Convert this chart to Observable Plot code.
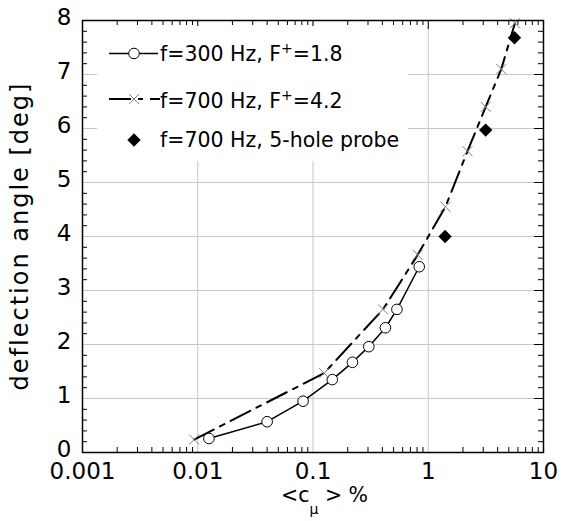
<!DOCTYPE html>
<html><head><meta charset="utf-8">
<script src="https://cdn.jsdelivr.net/npm/d3@7"></script>
<script src="https://cdn.jsdelivr.net/npm/@observablehq/plot@0.6"></script>
<style>html,body{margin:0;padding:0;background:#fff;} #chart{width:564px;height:521px;}</style>
</head><body><div id="chart"></div>
<script>
// ---- data ----
const series1X = [0.0125, 0.040, 0.082, 0.147, 0.22, 0.305, 0.425, 0.535, 0.835];
const series1Y = [0.26, 0.57, 0.95, 1.35, 1.67, 1.96, 2.31, 2.65, 3.44];
const series2X = [0.0093, 0.125, 0.405, 0.81, 1.41, 2.19, 3.15, 4.3, 5.65];
const series2Y = [0.24, 1.47, 2.65, 3.66, 4.55, 5.58, 6.40, 7.10, 7.95];
const probeX = [1.40, 3.15, 5.6];
const probeY = [4.0, 5.97, 7.68];
const xTicks = [0.001, 0.01, 0.1, 1, 10];
const xTickLabels = ["0.001", "0.01", "0.1", "1", "10"];
const yTicks = [0, 1, 2, 3, 4, 5, 6, 7, 8];
const yTickLabels = ["0", "1", "2", "3", "4", "5", "6", "7", "8"];
const legendLabels = [
  ["f=300 Hz, F", "+", "=1.8"],
  ["f=700 Hz, F", "+", "=4.2"],
  ["f=700 Hz, 5-hole probe", "", ""]
];
const xTitle = ["<c", "\u03bc", " > %"];
const yTitle = "deflection angle [deg]";

const s1 = series1X.map((x, i) => ({x, y: series1Y[i]}));
const s2 = series2X.map((x, i) => ({x, y: series2Y[i]}));
const s3 = probeX.map((x, i) => ({x, y: probeY[i]}));

const W = 564, H = 521, mL = 82, mR = 21, mT = 20, mB = 69;
const pw = W - mL - mR, ph = H - mT - mB;
const xMinor = d3.scaleLog().domain([0.001, 10]).ticks().filter(d => !xTicks.some(t => Math.abs(t - d) / t < 1e-9));
const yMinor = d3.range(1, 40).map(i => i / 5).filter(d => Math.abs(d - Math.round(d)) > 1e-9);
const gridXv = xTicks.slice(1, -1);
const gridYv = yTicks.slice(1, -1);

const DASH = "22,7,5,7";
const FONT = "DejaVu Sans";

const chart = Plot.plot({
  width: W, height: H,
  marginLeft: mL, marginRight: mR, marginTop: mT, marginBottom: mB,
  style: {fontFamily: FONT, fontSize: "23px", color: "black", background: "white"},
  x: {type: "log", domain: [0.001, 10]},
  y: {domain: [0, 8]},
  marks: [
    Plot.gridX(gridXv, {stroke: "#c8c8c8", strokeOpacity: 1}),
    Plot.gridY(gridYv, {stroke: "#c8c8c8", strokeOpacity: 1}),
    Plot.tickX(xMinor, {x: d => d, insetTop: ph - 5, stroke: "black"}),
    Plot.tickX(xMinor, {x: d => d, insetBottom: ph - 5, stroke: "black"}),
    Plot.tickX(gridXv, {x: d => d, insetBottom: ph - 9, stroke: "black"}),
    Plot.tickY(yMinor, {y: d => d, insetRight: pw - 5, stroke: "black"}),
    Plot.tickY(yMinor, {y: d => d, insetLeft: pw - 5, stroke: "black"}),
    Plot.tickY(gridYv, {y: d => d, insetLeft: pw - 9, stroke: "black"}),
    Plot.axisX(xTicks, {anchor: "bottom", tickSize: 0, tickPadding: 10, fontSize: 23, label: null,
      tickFormat: d => xTickLabels[xTicks.indexOf(d)]}),
    Plot.axisY(yTicks, {anchor: "left", tickSize: 0, tickPadding: 11, fontSize: 23, dy: -3, label: null,
      tickFormat: d => yTickLabels[yTicks.indexOf(d)]}),
    Plot.line(s2, {x: "x", y: "y", stroke: "black", strokeWidth: 2, strokeDasharray: DASH}),
    Plot.line(s1, {x: "x", y: "y", stroke: "black", strokeWidth: 1.5}),
    Plot.dot(s1, {x: "x", y: "y", r: 5.3, symbol: "circle", stroke: "black", fill: "white", strokeWidth: 1}),
    Plot.dot(s2, {x: "x", y: "y", r: 4.6, symbol: "times", stroke: "#808080", strokeWidth: 1}),
    Plot.dot(s3, {x: "x", y: "y", r: 6, symbol: "diamond2", fill: "black", stroke: "none"}),
    Plot.frame({stroke: "black", strokeWidth: 1.5})
  ]
});
document.getElementById("chart").appendChild(chart);

// ---- legend, drawn inside the svg ----
const svg = d3.select(chart);
const lg = svg.append("g").attr("font-family", FONT).attr("text-anchor", "start");
lg.append("rect").attr("x", 97).attr("y", 26).attr("width", 311).attr("height", 135).attr("fill", "white");
const rows = [53.5, 99, 140];
const sym = (type, r) => d3.symbol(type, Math.PI * r * r)();
// entry 1
lg.append("line").attr("x1", 109).attr("x2", 158).attr("y1", rows[0]).attr("y2", rows[0]).attr("stroke", "black").attr("stroke-width", 1.5);
lg.append("path").attr("d", sym(d3.symbolCircle, 5.3)).attr("transform", `translate(134,${rows[0]})`).attr("fill", "white").attr("stroke", "black");
// entry 2
lg.append("line").attr("x1", 109).attr("x2", 160).attr("y1", rows[1]).attr("y2", rows[1]).attr("stroke", "black").attr("stroke-width", 2).attr("stroke-dasharray", DASH);
lg.append("path").attr("d", sym(d3.symbolTimes, 4.6)).attr("transform", `translate(134,${rows[1]})`).attr("fill", "none").attr("stroke", "#808080");
// entry 3
lg.append("path").attr("d", sym(d3.symbolDiamond2, 6)).attr("transform", `translate(134,${rows[2]})`).attr("fill", "black");
const textY = [53.5, 101, 140];
legendLabels.forEach((parts, i) => {
  const t = lg.append("text").attr("x", 160).attr("y", textY[i]).attr("dy", "0.35em").attr("font-size", 20.5).attr("fill", "black");
  t.append("tspan").text(parts[0]);
  if (parts[1]) {
    t.append("tspan").attr("font-size", 14).attr("dy", -8).text(parts[1]);
    t.append("tspan").attr("dy", 8).text(parts[2]);
  }
});

// ---- axis titles ----
const xt = svg.append("text").attr("x", 281).attr("y", 502).attr("text-anchor", "start")
  .attr("font-family", FONT).attr("font-size", 20.5).attr("fill", "black");
xt.append("tspan").text(xTitle[0]);
xt.append("tspan").attr("font-size", 14).attr("dy", 12).text(xTitle[1]);
xt.append("tspan").attr("dy", -12).text(xTitle[2]);

svg.append("text").attr("transform", `translate(28,${(mT + H - mB) / 2}) rotate(-90)`)
  .attr("text-anchor", "middle").attr("font-family", FONT).attr("font-size", 24)
  .attr("letter-spacing", 2).attr("fill", "black").text(yTitle);
</script>
</body></html>
